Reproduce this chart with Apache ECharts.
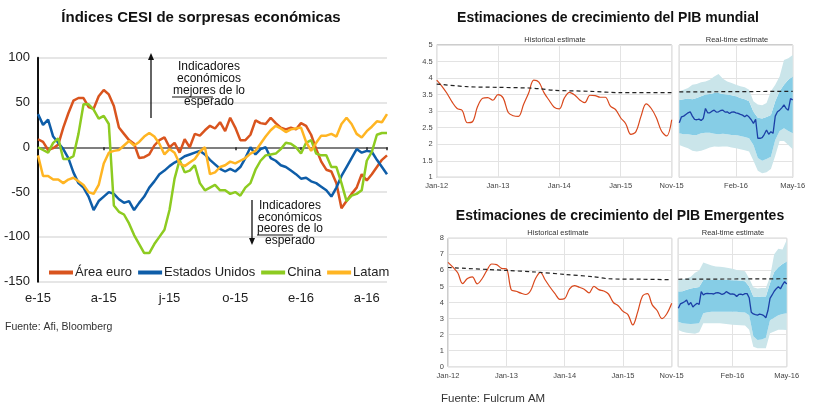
<!DOCTYPE html>
<html><head><meta charset="utf-8">
<script src="https://cdn.jsdelivr.net/npm/echarts@6/dist/echarts.min.js"></script>
<style>html,body{margin:0;padding:0;background:#fff}#c{width:823px;height:409px}</style>
</head><body><div id="c"></div>
<script>
// ---------- Left chart: CESI (weekly, Jan-2015 .. early May-2016) ----------
const cesiTicks = ['e-15','a-15','j-15','o-15','e-16','a-16'];
const areaEuro = [9,6,-3,-1,3,22,38,52,55,55,45,43,57,64,59,46,22,15,8,4,-12,-11,-8,2,8,11,0,5,-6,9,0,15,13,19,24,21,28,18,33,22,8,8,14,30,27,26,33,27,22,20,22,20,27,24,14,-2,-16,-25,-27,-40,-68,-60,-52,-45,-30,-37,-30,-22,-14,-9];
const estadosUnidos = [37,25,31,12,5,-2,-12,-28,-40,-45,-55,-70,-60,-55,-50,-52,-58,-62,-60,-70,-62,-55,-45,-38,-30,-26,-21,-17,-14,-10,-8,-6,-4,-8,-14,-19,-24,-27,-24,-27,-22,-12,0,-8,-2,0,-12,-15,-20,-22,-26,-30,-35,-34,-38,-40,-44,-48,-55,-45,-32,-22,-12,-2,-6,-4,-5,-14,-22,-30];
const china = [0,-3,-6,5,10,-13,-13,-10,15,48,48,42,32,35,26,-65,-72,-75,-85,-98,-108,-118,-118,-108,-100,-92,-70,-35,-14,-28,-26,-20,-40,-48,-45,-42,-48,-48,-52,-50,-54,-45,-40,-25,-15,-9,-8,-7,-2,5,4,0,-7,5,8,-7,-9,-9,-22,-22,-40,-60,-54,-52,-48,-15,-5,14,16,16];
const latam = [-9,-32,-32,-36,-36,-40,-36,-34,-38,-42,-50,-52,-42,-18,-6,-4,-3,2,7,2,6,12,16,12,4,-8,-2,-6,-18,-21,-17,-13,-5,0,-30,-28,-22,-20,-16,-18,-15,-12,-7,-4,4,12,19,24,21,17,20,21,22,6,-4,5,13,13,15,12,26,33,26,15,11,18,23,29,28,37];

// ---------- Right charts: historical (monthly Jan-12..Nov-15) ----------
const histTickPos = [0,12,24,36,46];
const histTickLabels = ['Jan-12','Jan-13','Jan-14','Jan-15','Nov-15'];
const rtTickPos = [13,26];
const rtTickLabels = ['Feb-16','May-16'];

const mundialHist = [3.94,3.76,3.54,3.28,3.08,3.02,2.65,2.68,3.14,3.39,3.41,3.33,3.5,3.4,2.96,2.86,2.84,3.2,3.55,3.94,3.88,3.56,3.33,3.12,3.07,3.4,3.57,3.49,3.34,3.26,3.48,3.47,3.42,3.42,3.15,3.05,2.8,2.62,2.3,2.38,2.85,3.22,3.08,2.8,2.4,2.25,2.74];
const mundialTrendX = [0,6,12,18,20,23,30,36,46];
const mundialTrendY = [3.82,3.74,3.72,3.7,3.68,3.63,3.6,3.56,3.56];
// real-time (weeks since Nov-15)
const mundialRT = [2.65,2.83,2.85,2.9,2.95,2.98,2.85,2.75,2.74,2.76,2.72,2.78,3.08,2.95,2.95,3.0,3.03,2.97,2.98,3.02,3.03,2.97,2.98,2.93,2.97,2.98,2.95,2.93,2.9,2.88,2.83,2.88,2.82,2.74,2.63,2.75,2.18,2.18,2.2,2.3,2.43,2.3,2.38,2.33,2.85,2.98,3.03,3.1,3.19,3.08,3.03,3.38,3.34];
const mundialOuterHi = [3.6,3.65,3.7,3.8,3.82,3.87,3.9,3.95,4.05,4.12,3.98,3.9,3.85,3.8,3.75,3.72,3.65,3.3,3.2,3.18,3.25,3.6,3.8,4.05,4.55,4.6,4.7];
const mundialInnerHi = [3.34,3.36,3.38,3.36,3.4,3.45,3.5,3.52,3.55,3.55,3.52,3.5,3.48,3.45,3.4,3.36,3.3,2.98,2.8,2.78,2.82,2.88,3.3,3.6,3.8,3.95,4.05];
const mundialInnerLo = [2.33,2.3,2.3,2.28,2.28,2.33,2.35,2.35,2.32,2.3,2.32,2.3,2.28,2.28,2.25,2.22,2.18,1.98,1.58,1.5,1.55,1.62,2.13,2.4,2.48,2.4,2.33];
const mundialOuterLo = [1.98,1.92,1.88,1.8,1.78,1.8,1.85,1.9,1.93,1.92,1.93,1.93,1.9,1.88,1.85,1.82,1.78,1.5,1.2,1.12,1.15,1.25,1.65,2.1,2.1,1.98,1.85];
const mundialRTTrendX = [0,26];
const mundialRTTrendY = [3.58,3.6];

const emergHist = [6.5,6.2,5.85,5.18,5.5,5.6,5.16,5.48,6.0,6.4,6.36,6.13,6.1,4.8,4.7,4.58,4.5,4.75,5.5,5.88,5.4,4.95,4.55,4.2,4.25,4.85,5.05,4.95,4.83,4.6,5.0,4.8,4.72,4.53,4.0,3.8,3.45,3.25,2.6,3.4,4.4,4.55,3.85,3.5,3.0,3.3,3.95];
const emergTrendX = [0,12,18,24,30,33,40,46];
const emergTrendY = [6.18,6.0,5.9,5.75,5.6,5.48,5.45,5.42];
const emergRT = [3.64,3.91,3.98,4.05,4.16,3.85,4.0,3.72,3.85,3.95,3.88,4.68,4.47,4.55,4.57,4.55,4.55,4.53,4.6,4.62,4.57,4.5,4.55,4.68,4.6,4.52,4.53,4.5,4.37,4.5,4.52,4.48,4.55,4.55,4.3,3.4,3.29,3.25,3.22,3.27,3.25,3.18,3.05,3.5,4.26,4.47,4.7,4.86,4.99,4.85,5.1,5.3,5.15];
const emergOuterHi = [5.4,5.45,5.5,5.6,5.85,6.0,6.5,6.4,6.3,6.25,6.23,6.2,6.15,6.1,6.03,6.0,5.95,5.5,4.95,4.88,4.9,4.9,5.6,7.0,7.35,7.3,7.9];
const emergInnerHi = [4.68,4.7,4.8,4.88,4.92,4.97,5.4,5.4,5.4,5.4,5.4,5.4,5.4,5.38,5.38,5.35,5.32,5.0,4.37,4.35,4.37,4.37,5.2,5.9,6.2,6.4,6.55];
const emergInnerLo = [2.8,2.7,2.68,2.66,2.68,2.7,3.33,3.4,3.42,3.43,3.43,3.43,3.43,3.43,3.43,3.4,3.38,3.2,1.9,1.67,1.7,1.8,2.9,3.05,3.2,3.28,3.33];
const emergOuterLo = [2.29,2.18,2.12,2.08,2.05,2.15,2.7,2.7,2.7,2.7,2.7,2.68,2.65,2.62,2.6,2.58,2.56,2.3,1.25,1.15,1.15,1.15,2.08,2.2,2.3,2.3,2.29];
const emergRTTrendX = [0,26];
const emergRTTrendY = [5.45,5.48];

// ---------- helpers ----------
const pairs = (xs, ys) => ys.map((v, i) => [xs[i], v]);
const idx = (ys, step) => ys.map((v, i) => [i * step, v]);
const diff = (a, b) => a.map((v, i) => +(v - b[i]).toFixed(3));
const weekCats = mundialOuterHi.map((_, i) => String(i));

const F = '"Liberation Sans", Arial, sans-serif';
const colors = { euro: '#D9541E', us: '#0E5DA8', china: '#8DCB21', latam: '#FFB523' };
const PALE = '#CAE5EA', BLUE_BAND = '#86CDE6';

function smallX(gi, max, interval, pos, labels) {
  return {
    gridIndex: gi, type: 'value', min: 0, max: max, interval: interval,
    axisLine: { show: false }, axisTick: { show: false },
    splitLine: { show: true, lineStyle: { color: '#e3e3e3', width: 1 } },
    axisLabel: {
      fontSize: 7.5, color: '#444', fontFamily: F, margin: 5,
      showMinLabel: true, showMaxLabel: true,
      formatter: v => { const k = pos.indexOf(Math.round(v)); return k >= 0 ? labels[k] : ''; }
    }
  };
}
function catX(gi) {
  return { gridIndex: gi, type: 'category', data: weekCats, boundaryGap: false, show: false,
    axisLine: { show: false }, axisTick: { show: false }, axisLabel: { show: false }, splitLine: { show: false } };
}
function smallY(gi, min, max, interval, showLabels) {
  return {
    gridIndex: gi, type: 'value', min: min, max: max, interval: interval,
    axisLine: { show: false }, axisTick: { show: false },
    splitLine: { show: true, lineStyle: { color: '#e3e3e3', width: 1 } },
    axisLabel: { show: showLabels, fontSize: 7.5, color: '#444', fontFamily: F, margin: 4 }
  };
}
function bandSeries(xi, yi, oLo, iLo, iHi, oHi, key) {
  const st = 'band' + key;
  const base = { type: 'line', xAxisIndex: xi, yAxisIndex: yi, stack: st, symbol: 'none', silent: true, lineStyle: { width: 0, opacity: 0 } };
  return [
    Object.assign({}, base, { name: key + 'b0', data: oLo }),
    Object.assign({}, base, { name: key + 'b1', data: diff(iLo, oLo), areaStyle: { color: PALE, opacity: 1 } }),
    Object.assign({}, base, { name: key + 'b2', data: diff(iHi, iLo), areaStyle: { color: BLUE_BAND, opacity: 1 } }),
    Object.assign({}, base, { name: key + 'b3', data: diff(oHi, iHi), areaStyle: { color: PALE, opacity: 1 } })
  ];
}
const dashStyle = { color: '#222', width: 1.2, type: [4, 3] };

const chart = echarts.init(document.getElementById('c'));
const option = {
  animation: false,
  backgroundColor: '#fff',
  grid: [
    { left: 38, top: 57.7, width: 349, height: 224 },
    { left: 436.7, top: 45, width: 235, height: 132.3, show: true, borderColor: '#9a9a9a', borderWidth: 1 },
    { left: 679.3, top: 45, width: 113.4, height: 132.3, show: true, borderColor: '#9a9a9a', borderWidth: 1 },
    { left: 448, top: 238.3, width: 223.7, height: 128.4, show: true, borderColor: '#9a9a9a', borderWidth: 1 },
    { left: 678.3, top: 238.3, width: 108.4, height: 128.4, show: true, borderColor: '#9a9a9a', borderWidth: 1 }
  ],
  xAxis: [
    { gridIndex: 0, type: 'value', min: 0, max: 69, interval: 13,
      axisLine: { show: false, onZero: false }, axisTick: { show: false }, splitLine: { show: false },
      axisLabel: { fontSize: 13, color: '#222', fontFamily: F, margin: 10, showMaxLabel: true,
        formatter: v => { const k = v / 13; return Number.isInteger(k) && k < cesiTicks.length ? cesiTicks[k] : ''; } } },
    { gridIndex: 0, type: 'value', min: 0, max: 69, interval: 13, position: 'bottom',
      axisLine: { show: true, onZero: true, lineStyle: { color: '#7f7f7f', width: 2 } },
      axisTick: { show: true, length: 3, lineStyle: { color: '#222', width: 1.5 } },
      axisLabel: { show: false }, splitLine: { show: false } },
    smallX(1, 46, 12, histTickPos, histTickLabels),
    smallX(2, 26, 13, rtTickPos, rtTickLabels),
    smallX(3, 46, 12, histTickPos, histTickLabels),
    smallX(4, 26, 13, rtTickPos, rtTickLabels),
    catX(2),
    catX(4)
  ],
  yAxis: [
    { gridIndex: 0, type: 'value', min: -150, max: 100, interval: 50,
      axisLine: { show: true, lineStyle: { color: '#111', width: 2 } }, axisTick: { show: false },
      splitLine: { show: true, lineStyle: { color: '#dedede', width: 1.5 } },
      axisLabel: { fontSize: 13, color: '#222', fontFamily: F, margin: 8 } },
    smallY(1, 1, 5, 0.5, true),
    smallY(2, 1, 5, 0.5, false),
    smallY(3, 0, 8, 1, true),
    smallY(4, 0, 8, 1, false)
  ],
  legend: {
    data: ['Área euro', 'Estados Unidos', 'China', 'Latam'],
    left: 44, top: 261, itemGap: 6, itemWidth: 24, itemHeight: 4, icon: 'rect',
    textStyle: { fontSize: 13, color: '#222', fontFamily: F, padding: [0, 0, 0, -3] }
  },
  series: [
    { name: 'Área euro', type: 'line', xAxisIndex: 0, yAxisIndex: 0, symbol: 'none', data: idx(areaEuro, 1), lineStyle: { color: colors.euro, width: 2.5 }, itemStyle: { color: colors.euro } },
    { name: 'Estados Unidos', type: 'line', xAxisIndex: 0, yAxisIndex: 0, symbol: 'none', data: idx(estadosUnidos, 1), lineStyle: { color: colors.us, width: 2.5 }, itemStyle: { color: colors.us } },
    { name: 'China', type: 'line', xAxisIndex: 0, yAxisIndex: 0, symbol: 'none', data: idx(china, 1), lineStyle: { color: colors.china, width: 2.5 }, itemStyle: { color: colors.china } },
    { name: 'Latam', type: 'line', xAxisIndex: 0, yAxisIndex: 0, symbol: 'none', data: idx(latam, 1), lineStyle: { color: colors.latam, width: 2.5 }, itemStyle: { color: colors.latam } },

    { name: 'mHist', type: 'line', xAxisIndex: 2, yAxisIndex: 1, symbol: 'none', smooth: 0.35, data: idx(mundialHist, 1), lineStyle: { color: '#D9481C', width: 1.2 } },
    { name: 'mTrend', type: 'line', xAxisIndex: 2, yAxisIndex: 1, symbol: 'none', smooth: 0.3, data: pairs(mundialTrendX, mundialTrendY), lineStyle: dashStyle },
    ...bandSeries(6, 2, mundialOuterLo, mundialInnerLo, mundialInnerHi, mundialOuterHi, 'm'),
    { name: 'mRTTrend', type: 'line', xAxisIndex: 3, yAxisIndex: 2, symbol: 'none', data: pairs(mundialRTTrendX, mundialRTTrendY), lineStyle: dashStyle },
    { name: 'mRT', type: 'line', xAxisIndex: 3, yAxisIndex: 2, symbol: 'none', data: idx(mundialRT, 0.5), lineStyle: { color: '#1C3FA6', width: 1.3 } },

    { name: 'eHist', type: 'line', xAxisIndex: 4, yAxisIndex: 3, symbol: 'none', smooth: 0.35, data: idx(emergHist, 1), lineStyle: { color: '#D9481C', width: 1.2 } },
    { name: 'eTrend', type: 'line', xAxisIndex: 4, yAxisIndex: 3, symbol: 'none', smooth: 0.3, data: pairs(emergTrendX, emergTrendY), lineStyle: dashStyle },
    ...bandSeries(7, 4, emergOuterLo, emergInnerLo, emergInnerHi, emergOuterHi, 'e'),
    { name: 'eRTTrend', type: 'line', xAxisIndex: 5, yAxisIndex: 4, symbol: 'none', data: pairs(emergRTTrendX, emergRTTrendY), lineStyle: dashStyle },
    { name: 'eRT', type: 'line', xAxisIndex: 5, yAxisIndex: 4, symbol: 'none', data: idx(emergRT, 0.5), lineStyle: { color: '#1C3FA6', width: 1.3 } }
  ],
  graphic: []
};

function txt(x, y, s, font, fill, align) {
  return { type: 'text', x: x, y: y, z: 100, silent: true,
    style: { text: s, font: font, fill: fill || '#111', textAlign: align || 'center', align: align || 'center', textVerticalAlign: 'middle', verticalAlign: 'middle' } };
}
function seg(x1, y1, x2, y2, w) {
  return { type: 'line', z: 100, silent: true, shape: { x1: x1, y1: y1, x2: x2, y2: y2 }, style: { stroke: '#111', lineWidth: w || 1.3 } };
}
function head(x, y, dir) {
  const s = dir; // -1 up, 1 down
  return { type: 'polygon', z: 100, silent: true, shape: { points: [[x, y], [x - 3, y - 7 * s], [x + 3, y - 7 * s]] }, style: { fill: '#111' } };
}
const g = option.graphic;
const ann = '12px ' + F;
g.push(txt(201, 18, 'Índices CESI de sorpresas económicas', 'bold 15px ' + F, '#111'));
g.push(txt(608, 18, 'Estimaciones de crecimiento del PIB mundial', 'bold 14px ' + F, '#111'));
g.push(txt(620, 216, 'Estimaciones de crecimiento del PIB Emergentes', 'bold 14px ' + F, '#111'));
g.push(txt(5, 327, 'Fuente: Afi, Bloomberg', '10.5px ' + F, '#333', 'left'));
g.push(txt(441, 399, 'Fuente: Fulcrum AM', '11.5px ' + F, '#333', 'left'));
g.push(txt(555, 39.5, 'Historical estimate', '7.5px ' + F, '#333'));
g.push(txt(737, 39.5, 'Real-time estimate', '7.5px ' + F, '#333'));
g.push(txt(558, 232.5, 'Historical estimate', '7.5px ' + F, '#333'));
g.push(txt(733, 232.5, 'Real-time estimate', '7.5px ' + F, '#333'));
// annotations
g.push(txt(209, 67, 'Indicadores', ann));
g.push(txt(209, 79, 'económicos', ann));
g.push(txt(209, 90.5, 'mejores de lo', ann));
g.push(txt(209, 102, 'esperado', ann));
g.push(seg(172, 97, 213, 97, 1));
g.push(seg(151, 118, 151, 60));
g.push(head(151, 53, -1));
g.push(txt(290, 206, 'Indicadores', ann));
g.push(txt(290, 217.5, 'económicos', ann));
g.push(txt(290, 229, 'peores de lo', ann));
g.push(txt(290, 240.5, 'esperado', ann));
g.push(seg(257, 235, 293, 235, 1));
g.push(seg(252, 200, 252, 238));
g.push(head(252, 245, 1));

chart.setOption(option);
</script></body></html>
